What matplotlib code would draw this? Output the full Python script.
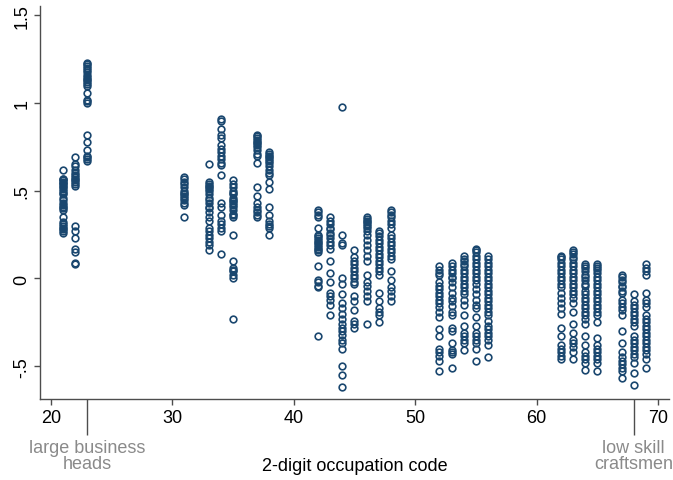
import matplotlib
matplotlib.use("Agg")
import matplotlib.pyplot as plt

plt.rcParams['font.family'] = ['Liberation Sans', 'DejaVu Sans']

# 2-digit occupation codes and the estimated values for each column of points
codes = [21, 22, 23, 31, 33, 34, 35, 37, 38, 42, 43, 44, 45, 46, 47, 48,
         52, 53, 54, 55, 56, 62, 63, 64, 65, 67, 68, 69]

y21 = [0.62, 0.57, 0.565, 0.56, 0.55, 0.545, 0.54, 0.53, 0.52, 0.51, 0.50, 0.49, 0.48,
       0.46, 0.45, 0.43, 0.42, 0.41, 0.40, 0.39, 0.35, 0.32, 0.31, 0.30, 0.29, 0.28, 0.27, 0.26]
y22 = [0.69, 0.65, 0.64, 0.62, 0.60, 0.59, 0.58, 0.57, 0.56, 0.55, 0.54, 0.53,
       0.30, 0.27, 0.23, 0.17, 0.15, 0.09, 0.08]
y23 = [1.23, 1.22, 1.21, 1.20, 1.19, 1.18, 1.16, 1.15, 1.14, 1.13, 1.12, 1.11, 1.10,
       1.06, 1.02, 1.01, 1.00, 0.82, 0.78, 0.73, 0.70, 0.69, 0.68, 0.67]
y31 = [0.58, 0.57, 0.55, 0.54, 0.52, 0.50, 0.49, 0.48, 0.47, 0.46, 0.45, 0.43, 0.42, 0.35]
y33 = [0.65, 0.55, 0.54, 0.53, 0.52, 0.51, 0.50, 0.48, 0.46, 0.45, 0.43, 0.41, 0.40,
       0.38, 0.35, 0.33, 0.29, 0.27, 0.25, 0.23, 0.21, 0.19, 0.16]
y34 = [0.91, 0.90, 0.85, 0.82, 0.80, 0.76, 0.74, 0.72, 0.70, 0.68, 0.66, 0.645, 0.59,
       0.43, 0.41, 0.36, 0.33, 0.31, 0.29, 0.27, 0.14]
y35 = [0.56, 0.54, 0.52, 0.50, 0.49, 0.48, 0.46, 0.45, 0.44, 0.43, 0.42, 0.41, 0.39,
       0.37, 0.36, 0.35, 0.25, 0.10, 0.06, 0.05, 0.04, 0.02, 0.00, -0.23]
y37 = [0.82, 0.81, 0.80, 0.79, 0.78, 0.77, 0.76, 0.75, 0.73, 0.71, 0.70, 0.66, 0.52,
       0.47, 0.43, 0.41, 0.39, 0.38, 0.36, 0.35]
y38 = [0.72, 0.71, 0.70, 0.69, 0.68, 0.67, 0.66, 0.64, 0.62, 0.60, 0.59, 0.55, 0.51,
       0.41, 0.36, 0.33, 0.31, 0.30, 0.29, 0.25]
y42 = [0.39, 0.38, 0.36, 0.35, 0.29, 0.25, 0.24, 0.23, 0.22, 0.21, 0.20, 0.19, 0.18,
       0.17, 0.16, 0.15, 0.07, -0.01, -0.02, -0.04, -0.05, -0.33]
y43 = [0.35, 0.33, 0.31, 0.29, 0.28, 0.26, 0.25, 0.23, 0.21, 0.19, 0.17, 0.10, 0.03,
       -0.02, -0.08, -0.10, -0.12, -0.15, -0.21]
y44 = [0.98, 0.25, 0.20, 0.19, 0.00, -0.03, -0.09, -0.14, -0.17, -0.20, -0.23, -0.26,
       -0.28, -0.30, -0.32, -0.35, -0.37, -0.40, -0.50, -0.55, -0.62]
y45 = [0.16, 0.12, 0.10, 0.08, 0.06, 0.04, 0.02, 0.00, -0.02, -0.03, -0.10, -0.13,
       -0.18, -0.24, -0.26, -0.28]
y46 = [0.35, 0.34, 0.33, 0.32, 0.31, 0.30, 0.29, 0.27, 0.25, 0.22, 0.19, 0.16, 0.13,
       0.10, 0.02, -0.02, -0.04, -0.07, -0.10, -0.13, -0.26]
y47 = [0.27, 0.26, 0.24, 0.22, 0.20, 0.18, 0.16, 0.14, 0.12, 0.10, 0.08, 0.06, 0.04,
       0.02, -0.08, -0.13, -0.17, -0.19, -0.21, -0.25]
y48 = [0.39, 0.38, 0.36, 0.35, 0.33, 0.31, 0.29, 0.25, 0.23, 0.21, 0.19, 0.17, 0.15,
       0.13, 0.11, 0.04, -0.01, -0.05, -0.07, -0.10, -0.13]
y52 = [0.07, 0.05, 0.03, 0.02, -0.02, -0.04, -0.06, -0.08, -0.10, -0.12, -0.14, -0.16,
       -0.19, -0.22, -0.29, -0.33, -0.40, -0.42, -0.44, -0.47, -0.53]
y53 = [0.09, 0.07, 0.05, 0.03, 0.01, 0.00, -0.02, -0.05, -0.08, -0.11, -0.13, -0.155,
       -0.19, -0.21, -0.28, -0.30, -0.37, -0.41, -0.42, -0.43, -0.51]
y54 = [0.13, 0.11, 0.10, 0.08, 0.07, 0.05, 0.03, 0.01, -0.01, -0.03, -0.05, -0.07,
       -0.09, -0.12, -0.15, -0.21, -0.27, -0.31, -0.33, -0.35, -0.37, -0.41]
y55 = [0.17, 0.16, 0.15, 0.13, 0.11, 0.09, 0.07, 0.05, 0.03, 0.01, -0.01, -0.03, -0.06,
       -0.09, -0.12, -0.15, -0.17, -0.22, -0.27, -0.31, -0.33, -0.35, -0.37, -0.40, -0.47]
y56 = [0.13, 0.11, 0.09, 0.07, 0.05, 0.03, 0.01, -0.01, -0.03, -0.05, -0.07, -0.09,
       -0.11, -0.13, -0.15, -0.17, -0.19, -0.21, -0.24, -0.27, -0.29, -0.31, -0.33,
       -0.35, -0.38, -0.45]
y62 = [0.13, 0.12, 0.11, 0.09, 0.07, 0.05, 0.03, 0.01, -0.01, -0.03, -0.05, -0.08,
       -0.11, -0.14, -0.17, -0.20, -0.28, -0.33, -0.38, -0.40, -0.42, -0.44, -0.46]
y63 = [0.16, 0.15, 0.14, 0.12, 0.11, 0.09, 0.07, 0.05, 0.03, 0.01, -0.01, -0.03, -0.05,
       -0.07, -0.09, -0.11, -0.14, -0.19, -0.26, -0.31, -0.35, -0.37, -0.39, -0.42, -0.46]
y64 = [0.08, 0.07, 0.06, 0.04, 0.02, 0.01, -0.01, -0.03, -0.04, -0.07, -0.09, -0.11,
       -0.13, -0.15, -0.17, -0.19, -0.21, -0.23, -0.26, -0.33, -0.38, -0.42, -0.44,
       -0.46, -0.48, -0.52]
y65 = [0.08, 0.07, 0.06, 0.05, 0.03, 0.01, -0.01, -0.03, -0.05, -0.07, -0.09, -0.11,
       -0.13, -0.15, -0.17, -0.19, -0.21, -0.25, -0.34, -0.38, -0.40, -0.42, -0.44,
       -0.46, -0.48, -0.53]
y67 = [0.02, 0.01, -0.01, -0.02, -0.04, -0.05, -0.07, -0.08, -0.12, -0.14, -0.16, -0.18,
       -0.21, -0.30, -0.37, -0.42, -0.45, -0.47, -0.49, -0.51, -0.53, -0.57]
y68 = [-0.09, -0.13, -0.15, -0.17, -0.19, -0.21, -0.23, -0.25, -0.27, -0.33, -0.35,
       -0.37, -0.39, -0.41, -0.43, -0.45, -0.48, -0.54, -0.61]
y69 = [0.08, 0.06, 0.04, 0.02, -0.08, -0.12, -0.14, -0.16, -0.21, -0.23, -0.25, -0.27,
       -0.29, -0.31, -0.33, -0.35, -0.37, -0.39, -0.41, -0.43, -0.46, -0.51]

columns = [y21, y22, y23, y31, y33, y34, y35, y37, y38, y42, y43, y44, y45, y46, y47,
           y48, y52, y53, y54, y55, y56, y62, y63, y64, y65, y67, y68, y69]

yticks = [-0.5, 0, 0.5, 1, 1.5]
ytick_labels = ['-.5', '0', '.5', '1', '1.5']
xticks = [20, 30, 40, 50, 60, 70]
marked_codes = [23, 68]
marked_labels = ['large business\nheads', 'low skill\ncraftsmen']

xs = []
ys = []
for c, col in zip(codes, columns):
    for v in col:
        xs.append(c)
        ys.append(v)

navy = '#1a476f'
axis_col = '#4d4d4d'

fig = plt.figure(figsize=(6.73, 4.81), dpi=100)
ax = fig.add_axes([0.0594, 0.1684, 0.9346, 0.8176])

ax.plot(xs, ys, linestyle='none', marker='o', markersize=4.8,
        markerfacecolor='none', markeredgecolor=navy, markeredgewidth=1.2)

ax.set_xlim(19.1, 70.9)
ax.set_ylim(-0.687, 1.555)

for s in ['top', 'right']:
    ax.spines[s].set_visible(False)
for s in ['left', 'bottom']:
    ax.spines[s].set_color(axis_col)
    ax.spines[s].set_linewidth(1.0)

ax.set_yticks(yticks)
ax.set_yticklabels(ytick_labels, rotation=90, va='center', fontsize=13)
ax.set_xticks(xticks)
ax.set_xticklabels([str(t) for t in xticks], fontsize=13)
ax.tick_params(axis='both', which='major', length=4, width=1.0, color=axis_col, pad=3)

# long ticks for the two labelled occupations
ax.set_xticks(marked_codes, minor=True)
ax.set_xticklabels(marked_labels, minor=True, fontsize=13, color='#8a8a8a', linespacing=0.92)
ax.tick_params(axis='x', which='minor', length=26, width=1.0, color=axis_col, pad=3)

ax.set_xlabel('2-digit occupation code', fontsize=13)
ax.xaxis.set_label_coords(0.5, -0.168)
ax.xaxis.label.set_verticalalignment('center')

fig.savefig('out.png', dpi=100)
